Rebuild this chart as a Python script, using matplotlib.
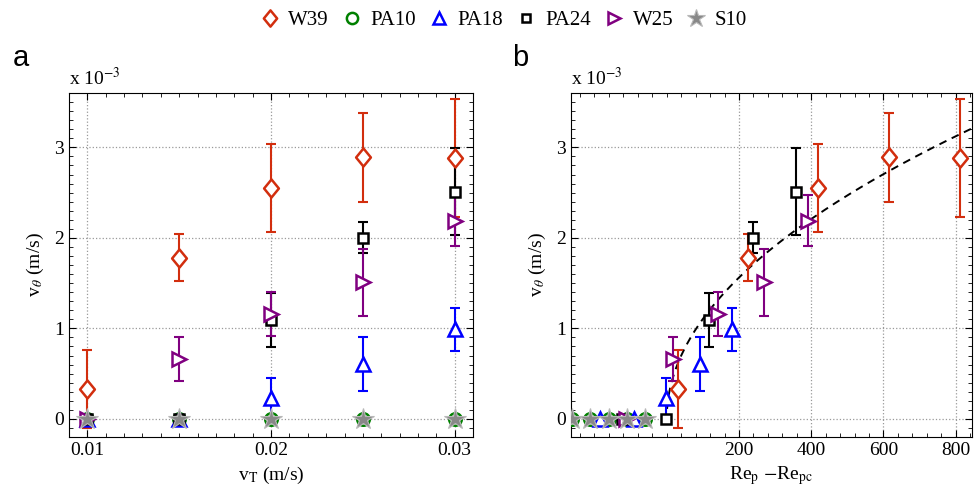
import numpy as np
import matplotlib
matplotlib.use("Agg")
import matplotlib.pyplot as plt
from matplotlib.lines import Line2D
from matplotlib.path import Path
from matplotlib.ticker import MultipleLocator

plt.rcParams['font.family'] = 'Liberation Serif'
plt.rcParams['mathtext.fontset'] = 'stix'

# velocities in units of 1e-3 m/s
vT = [0.010, 0.015, 0.020, 0.025, 0.030]

w39_v = [0.33, 1.78, 2.55, 2.89, 2.88]
w39_err = [0.43, 0.26, 0.49, 0.49, 0.65]
w39_re = [31, 225, 420, 615, 811]

pa10_v = [0, 0, 0, 0, 0]
pa10_re = [-263, -212, -161, -111, -61]

pa18_v = [0, 0, 0.23, 0.61, 0.99]
pa18_err = [0, 0, 0.22, 0.30, 0.24]
pa18_re = [-185, -90, -2, 91, 180]

pa24_v = [0, 0, 1.09, 2.00, 2.51]
pa24_err = [0, 0, 0.30, 0.17, 0.48]
pa24_re = [-125, -3, 118, 240, 359]

w25_v = [0, 0.66, 1.16, 1.51, 2.19]
w25_err = [0, 0.24, 0.24, 0.37, 0.28]
w25_re = [-113, 17, 143, 269, 390]

s10_v = [0, 0, 0, 0, 0]
s10_re = [-263, -212, -161, -111, -61]

# fit v = k*sqrt(Re_p - Re_pc)
fit_k = 0.1104

# slightly narrow diamond like the original
diamond = Path([(0, 1), (0.82, 0), (0, -1), (-0.82, 0), (0, 1)],
               [Path.MOVETO, Path.LINETO, Path.LINETO, Path.LINETO, Path.CLOSEPOLY])

series = [
    ("W39", w39_v, w39_err, w39_re, dict(marker=diamond, ms=13, color='#d22e0e')),
    ("PA10", pa10_v, None, pa10_re, dict(marker='o', ms=9, color='#008000')),
    ("PA18", pa18_v, pa18_err, pa18_re, dict(marker='^', ms=10, color='#0000ff')),
    ("PA24", pa24_v, pa24_err, pa24_re, dict(marker='s', ms=7, color='black')),
    ("W25", w25_v, w25_err, w25_re, dict(marker='>', ms=10, color='#800080')),
    ("S10", s10_v, None, s10_re, dict(marker='*', ms=16, color='#888888')),
]

fig = plt.figure(figsize=(9.75, 5.04), dpi=100)
ax_a = fig.add_axes([0.0708, 0.1329, 0.4144, 0.6825])
ax_b = fig.add_axes([0.5856, 0.1329, 0.4113, 0.6825])


def draw(ax, use_re):
    for name, v, err, re, st in series:
        x = re if use_re else vT
        c = st['color']
        if name == "S10":
            ax.plot(x, v, linestyle='none', marker='*', ms=st['ms'], mfc=c,
                    mec='#b8b8b8', mew=0.8, zorder=5)
            continue
        if err is not None:
            ax.errorbar(x, v, yerr=err, fmt='none', ecolor=c, elinewidth=1.5,
                        capsize=3.5, capthick=1.5, zorder=3)
        ax.plot(x, v, linestyle='none', marker=st['marker'], ms=st['ms'],
                mfc='white', mec=c, mew=1.8, zorder=4)


draw(ax_a, False)
draw(ax_b, True)

xf = np.linspace(1, 845, 300)
ax_b.plot(xf, fit_k * np.sqrt(xf), linestyle=(0, (4, 3)), color='black',
          lw=1.4, zorder=2)

for ax in (ax_a, ax_b):
    ax.set_ylim(-0.2, 3.6)
    ax.set_yticks([0, 1, 2, 3])
    ax.yaxis.set_minor_locator(MultipleLocator(0.1))
    ax.tick_params(which='both', direction='in', top=True, right=True,
                   labelsize=14)
    ax.tick_params(which='major', length=5)
    ax.tick_params(which='minor', length=3)
    ax.grid(True, which='major', linestyle=':', color='#999999', lw=0.9)
    ax.set_axisbelow(True)
    ax.set_ylabel(r'v$_\theta$ (m/s)', fontsize=14, labelpad=6)
    ax.text(0, 1.012, r'x 10$^{-3}$', transform=ax.transAxes, fontsize=14,
            ha='left', va='bottom')

ax_a.set_xlim(0.009, 0.031)
ax_a.set_xticks([0.01, 0.02, 0.03])
ax_a.set_xticklabels(['0.01', '0.02', '0.03'])
ax_a.xaxis.set_minor_locator(MultipleLocator(0.001))
ax_a.set_xlabel(r'v$_\mathrm{T}$ (m/s)', fontsize=14)

ax_b.set_xlim(-265, 845)
ax_b.set_xticks([200, 400, 600, 800])
ax_b.xaxis.set_minor_locator(MultipleLocator(40))
ax_b.set_xlabel(r'Re$_\mathrm{p}$ $-$Re$_\mathrm{pc}$', fontsize=14)

fig.text(0.013, 0.885, 'a', fontsize=21, family='Liberation Sans', va='center')
fig.text(0.525, 0.885, 'b', fontsize=21, family='Liberation Sans', va='center')

handles = []
for name, v, err, re, st in series:
    if name == "S10":
        h = Line2D([], [], linestyle='none', marker='*', ms=st['ms'] * 0.85,
                   mfc=st['color'], mec='#b8b8b8', mew=0.8)
    else:
        h = Line2D([], [], linestyle='none', marker=st['marker'], ms=st['ms'] * 0.9,
                   mfc='white', mec=st['color'], mew=1.8)
    handles.append(h)
fig.legend(handles, [s[0] for s in series], loc='center',
           bbox_to_anchor=(0.516, 0.96), ncol=6, frameon=False, fontsize=15,
           handlelength=1.0, handletextpad=0.4, columnspacing=0.6)

fig.savefig('out.png', dpi=100)
